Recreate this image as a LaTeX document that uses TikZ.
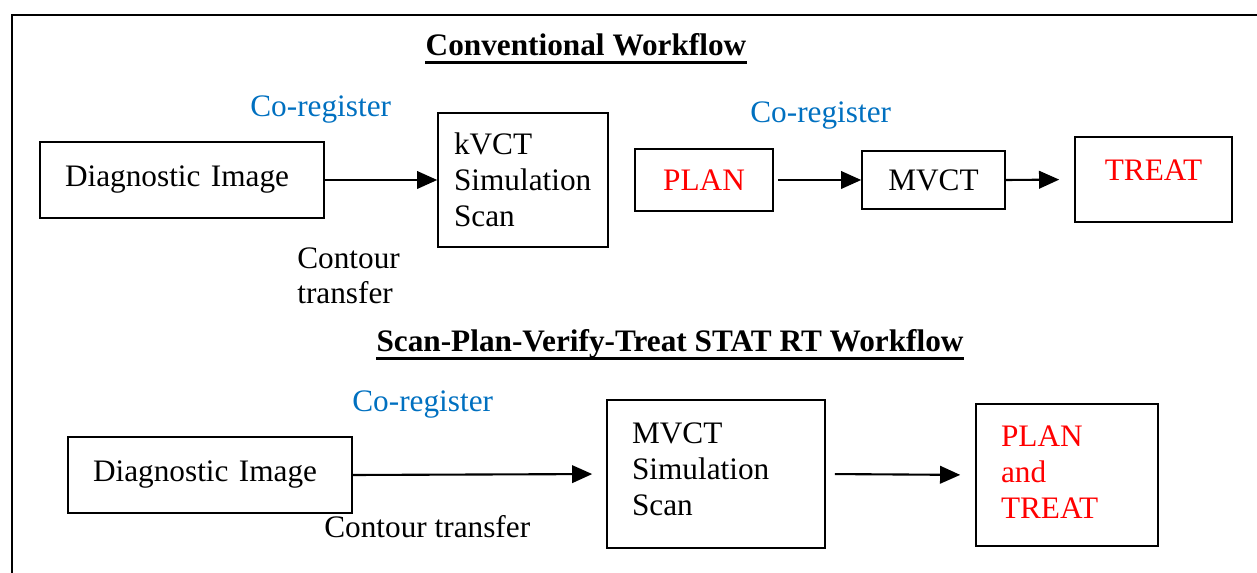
\documentclass[tikz,border=0pt]{standalone}
\usepackage{fontspec}
\setmainfont{Liberation Serif}
\usetikzlibrary{arrows.meta}
\definecolor{coblue}{HTML}{0070C0}

\begin{document}
\begin{tikzpicture}[x=0.02cm,y=-0.02cm,
        font=\fontsize{17.8}{20.4}\selectfont,
        box/.style={draw,line width=0.9pt,inner sep=0pt},
        lbox/.style={box,align=left,inner xsep=0.5cm},
        arr/.style={-{Triangle[length=11.5pt,width=10pt]},line width=1.2pt},
        note/.style={inner sep=0pt}]
                \useasboundingbox (0,0) rectangle (1257,573);
                \draw[line width=1.1pt] (1257,15)--(12,15)--(12,573);

                % conventional
                \node[note,anchor=base,font=\fontsize{17.8}{20.4}\selectfont\bfseries] (t1) at(586,56){Conventional Workflow};
                \draw[line width=1.8pt] ([yshift=-3.5pt]t1.base west)--([yshift=-3.5pt]t1.base east);

                \node[lbox,minimum width=5.68cm,minimum height=1.52cm,text width=4.68cm] (diag1) at(182,180){Diagnostic Image};
                \node[lbox,inner xsep=0.32cm,minimum width=3.4cm,minimum height=2.68cm,text width=2.76cm] (kvct) at(523,180){kVCT\\Simulation\\Scan};
                \node[box,minimum width=2.76cm,minimum height=1.24cm,text=red] (plan) at(704,180){PLAN};
                \node[box,minimum width=2.86cm,minimum height=1.16cm] (mvct) at(933.5,180){MVCT};
                \node[box,minimum width=3.14cm,minimum height=1.7cm,text=red,text depth=11pt] (treat) at(1153.5,179.5){TREAT};

                \draw[arr] (diag1.east)--(kvct.west);
                \draw[arr,shorten <=0.08cm] (plan.east)--(mvct.west);
                \draw[arr,shorten >=0.3cm] (mvct.east)--(treat.west);

                \node[note,anchor=base west,text=coblue] (coreg1) at(250,117){Co-register};
                \node[note,anchor=base west,text=coblue] (coreg2) at(750,123){Co-register};
                \node[note,anchor=north west,align=left] (contour1) at(297,247){Contour\\transfer};

                % scan-plan-verify-treat
                \node[note,anchor=base,font=\fontsize{17.8}{20.4}\selectfont\bfseries] (t2) at(670,352){Scan-Plan-Verify-Treat STAT RT Workflow};
                \draw[line width=1.8pt] ([yshift=-3.5pt]t2.base west)--([yshift=-3.5pt]t2.base east);

                \node[lbox,minimum width=5.68cm,minimum height=1.52cm,text width=4.68cm] (diag2) at(210,475){Diagnostic Image};
                \node[lbox,minimum width=4.36cm,minimum height=2.96cm,text width=3.36cm] (mvsim) at(716,474){MVCT\\Simulation\\Scan\rule[-5.6pt]{0pt}{1pt}};
                \node[lbox,minimum width=3.64cm,minimum height=2.84cm,text width=2.64cm,text=red] (plantreat) at(1067,475){PLAN\\and\\TREAT\rule[-3.4pt]{0pt}{1pt}};

                \draw[arr,shorten >=0.28cm] (diag2.east)--(mvsim.west);
                \draw[arr,shorten <=0.18cm,shorten >=0.3cm] (mvsim.east)--(plantreat.west);

                \node[note,anchor=base west,text=coblue] (coreg3) at(352,412){Co-register};
                \node[note,anchor=base west] (contour2) at(324,538){Contour transfer};
            \end{tikzpicture}
\end{document}
